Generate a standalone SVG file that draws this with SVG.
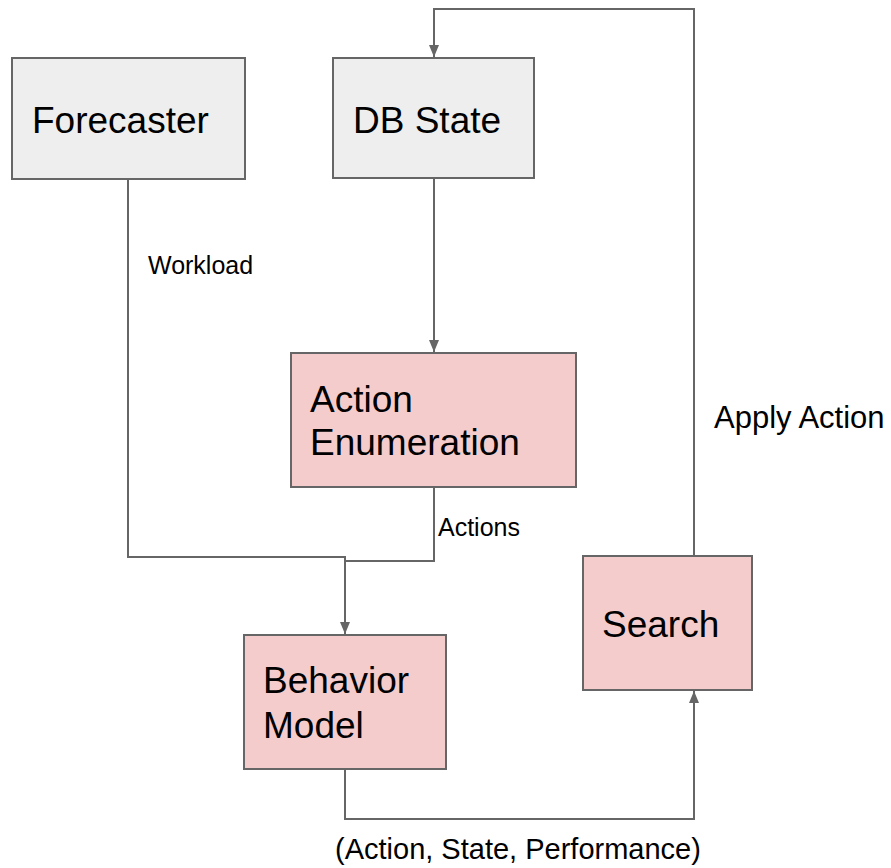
<svg xmlns="http://www.w3.org/2000/svg" width="891" height="868" viewBox="0 0 891 868">
  <style>
    .box { stroke: #666666; stroke-width: 2; }
    .grey { fill: #eeeeee; }
    .pink { fill: #f4cccc; }
    .title { font-family: "Liberation Sans", Arial, sans-serif; font-size: 37px; fill: #000000; }
    .label { font-family: "Liberation Sans", Arial, sans-serif; fill: #000000; }
    .wire { fill: none; stroke: #666666; stroke-width: 2; }
  </style>
  <defs>
    <marker id="arrow" viewBox="0 0 12 10" refX="12" refY="5" markerWidth="12" markerHeight="10" markerUnits="userSpaceOnUse" orient="auto">
      <path d="M0,0 L12,5 L0,10 Z" fill="#666666"/>
    </marker>
  </defs>

  <rect width="891" height="868" fill="#ffffff"/>

  <!-- connectors -->
  <g id="connectors">
    <!-- Search loops back to DB State -->
    <path class="wire" d="M694 556 V9 H434 V57" marker-end="url(#arrow)"/>
    <!-- DB State to Action Enumeration -->
    <path class="wire" d="M434 179 V352" marker-end="url(#arrow)"/>
    <!-- Forecaster workload into Behavior Model -->
    <path class="wire" d="M128 180 V557 H345 V634" marker-end="url(#arrow)"/>
    <!-- Action Enumeration actions join the same input -->
    <path class="wire" d="M434 488 V561 H345"/>
    <!-- Behavior Model results to Search -->
    <path class="wire" d="M345 770 V819 H694 V691" marker-end="url(#arrow)"/>
    <text class="label" x="148" y="274" font-size="25">Workload</text>
    <text class="label" x="438" y="536" font-size="25">Actions</text>
    <text class="label" x="714" y="428" font-size="31">Apply Action</text>
    <text class="label" x="335" y="859" font-size="29">(Action, State, Performance)</text>
  </g>

  <g id="forecaster">
    <rect class="box grey" x="12" y="58" width="233" height="121"/>
    <text class="title" x="32" y="133">Forecaster</text>
  </g>

  <g id="db-state">
    <rect class="box grey" x="333" y="58" width="201" height="120"/>
    <text class="title" x="353" y="133">DB State</text>
  </g>

  <g id="action-enumeration">
    <rect class="box pink" x="291" y="353" width="285" height="134"/>
    <text class="title" x="310" y="412">Action</text>
    <text class="title" x="310" y="455">Enumeration</text>
  </g>

  <g id="behavior-model">
    <rect class="box pink" x="244" y="635" width="202" height="134"/>
    <text class="title" x="263" y="693">Behavior</text>
    <text class="title" x="263" y="738">Model</text>
  </g>

  <g id="search">
    <rect class="box pink" x="583" y="556" width="169" height="134"/>
    <text class="title" x="602" y="637">Search</text>
  </g>
</svg>
